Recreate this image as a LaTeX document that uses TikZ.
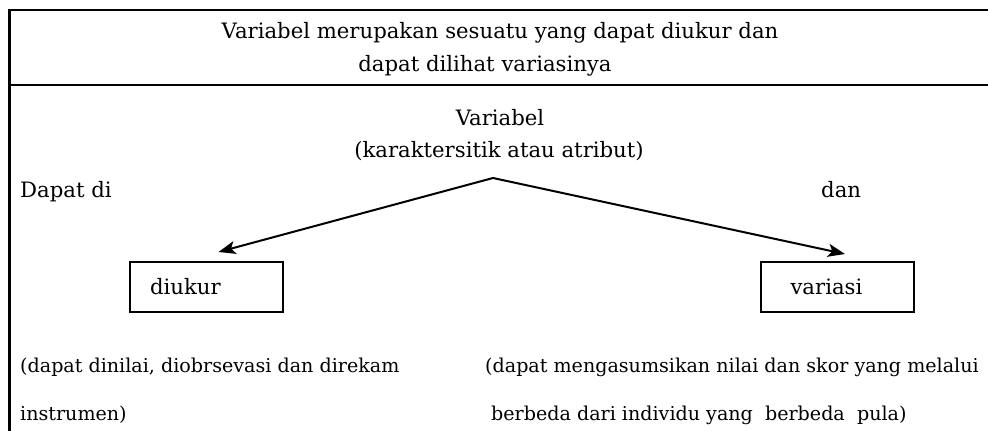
\documentclass[tikz,border=0pt]{standalone}
\usepackage{fontspec}
\setmainfont{DejaVu Serif}
\usetikzlibrary{arrows.meta}
\begin{document}
\begin{tikzpicture}[x=1pt,y=-1pt,
  frame/.style={line width=2.2pt},
  txt/.style={inner sep=0pt,font=\fontsize{21.2}{24}\selectfont},
  small/.style={inner sep=0pt,font=\fontsize{19.1}{22}\selectfont},
  box/.style={draw,line width=2pt,minimum height=50pt,inner ysep=0pt,align=left,font=\fontsize{21.2}{24}\selectfont},
  arr/.style={line width=2pt,-{Stealth[length=17pt,width=13pt,inset=4pt]}}]
\useasboundingbox (0,0) rectangle (988,431);
\fill[white] (0,0) rectangle (988,431);
\draw[frame] (988,10) -- (9.5,10) -- (9.5,431);
\draw[frame] (9.5,85) -- (988,85);
\node[txt,anchor=base] (t1) at (500,38) {Variabel merupakan sesuatu yang dapat diukur dan};
\node[txt,anchor=base] (t2) at (485,71) {dapat dilihat variasinya};
\node[txt,anchor=base] (var) at (500,125) {Variabel};
\node[txt,anchor=base] (kar) at (499,157) {(karaktersitik atau atribut)};
\node[txt,anchor=base west] (dapat) at (20,197) {Dapat di};
\node[txt,anchor=base west] (dan) at (821,197) {dan};
\coordinate (apex) at (493,178);
\node[box,text width=113pt,inner xsep=20pt] (diukur) at (206.5,287) {diukur};
\node[box,text width=93pt,inner xsep=30pt] (variasi) at (837,287) {variasi};
\draw[arr] (apex) -- ([xshift=12pt,yshift=9pt]diukur.north);
\draw[arr] (apex) -- ([xshift=8pt,yshift=7pt]variasi.north);
\node[small,anchor=base west] (l1) at (20,372) {(dapat dinilai, diobrsevasi dan direkam};
\node[small,anchor=base west] (l2) at (20,420) {instrumen)};
\node[small,anchor=base west] (r1) at (485,372) {(dapat mengasumsikan nilai dan skor yang melalui};
\node[small,anchor=base west] (r2) at (491,420) {berbeda dari individu yang\ \ berbeda\ \ pula)};
\end{tikzpicture}
\end{document}
